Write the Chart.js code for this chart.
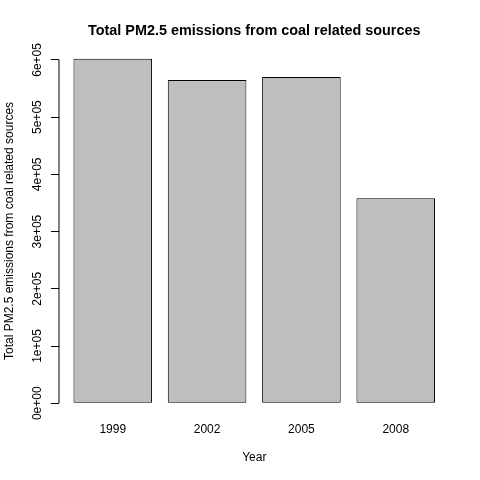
<!doctype html>
<html lang="en">
  <head>
    <meta charset="utf-8">
    <title>Total PM2.5 emissions from coal related sources</title>
    <script src="https://cdn.jsdelivr.net/npm/chart.js"></script>
    <style>
      body { margin: 0; background: #fff; }
    </style>
  </head>
  <body>
    <canvas id="coalChart" width="480" height="480"></canvas>
    <script>
      const years = ['1999', '2002', '2005', '2008'];
      const emissions = [602000, 565000, 570000, 358000];
      const yTickValues = [0, 100000, 200000, 300000, 400000, 500000, 600000];
      const yTickLabels = ['0e+00', '1e+05', '2e+05', '3e+05', '4e+05', '5e+05', '6e+05'];

      // barplot-like layout: width 1, space 0.2, 4% axis extension
      const barCenters = years.map((_, i) => 0.7 + 1.2 * i);
      const xLo = 0.2, xHi = 1.2 * years.length;
      const xPad = (xHi - xLo) * 0.04;
      const yMax = Math.max(...emissions);
      const yPad = yMax * 0.04;

      const font = { family: 'Liberation Sans, Arial, sans-serif', size: 12 };

      // y axis line only spans the labelled ticks
      const axisLine = {
        id: 'axisLine',
        afterDraw(chart) {
          const y = chart.scales.y;
          const x = chart.chartArea.left;
          const ctx = chart.ctx;
          ctx.save();
          ctx.strokeStyle = '#000';
          ctx.lineWidth = 1;
          ctx.beginPath();
          ctx.moveTo(x, y.getPixelForValue(yTickValues[0]));
          ctx.lineTo(x, y.getPixelForValue(yTickValues[yTickValues.length - 1]));
          ctx.stroke();
          ctx.restore();
        }
      };

      window.onload = function() {
        const ctx = document.getElementById('coalChart').getContext('2d');
        new Chart(ctx, {
          type: 'bar',
          data: {
            datasets: [{
              data: emissions.map((v, i) => ({ x: barCenters[i], y: v })),
              backgroundColor: '#BEBEBE',
              borderColor: '#000',
              borderWidth: 1,
              borderSkipped: false,
              categoryPercentage: 1,
              barPercentage: 1 / 1.2
            }]
          },
          options: {
            responsive: false,
            animation: false,
            layout: { padding: { right: 30.5 } },
            plugins: {
              legend: { display: false },
              tooltip: { enabled: false },
              title: {
                display: true,
                fullSize: false,
                text: 'Total PM2.5 emissions from coal related sources',
                color: '#000',
                font: { family: font.family, size: 14.4, weight: 'bold' },
                padding: { top: 22.4, bottom: 5.3 }
              }
            },
            scales: {
              x: {
                type: 'linear',
                offset: false,
                min: xLo - xPad,
                max: xHi + xPad,
                grid: { display: false, drawTicks: false, offset: false },
                border: { display: false },
                afterBuildTicks: scale => { scale.ticks = barCenters.map(v => ({ value: v })); },
                afterFit: scale => { scale.height = 63; },
                ticks: {
                  autoSkip: false,
                  maxRotation: 0,
                  padding: 5.4,
                  color: '#000',
                  font: font,
                  callback: (val, idx) => years[idx]
                },
                title: {
                  display: true,
                  text: 'Year',
                  color: '#000',
                  font: font,
                  padding: { top: 0, bottom: 15.1 }
                }
              },
              y: {
                min: -yPad,
                max: yMax + yPad,
                grid: { display: true, drawOnChartArea: false, drawTicks: true, tickLength: 8, color: '#000' },
                border: { display: false },
                afterBuildTicks: scale => { scale.ticks = yTickValues.map(v => ({ value: v })); },
                afterFit: scale => { scale.width = 59; },
                ticks: {
                  minRotation: 90,
                  maxRotation: 90,
                  crossAlign: 'center',
                  padding: -3.5,
                  color: '#000',
                  font: font,
                  callback: (val, idx) => yTickLabels[idx]
                },
                title: {
                  display: true,
                  text: 'Total PM2.5 emissions from coal related sources',
                  color: '#000',
                  font: font,
                  padding: { top: 2.3, bottom: 0 }
                }
              }
            }
          },
          plugins: [axisLine]
        });
      };
    </script>
  </body>
</html>
